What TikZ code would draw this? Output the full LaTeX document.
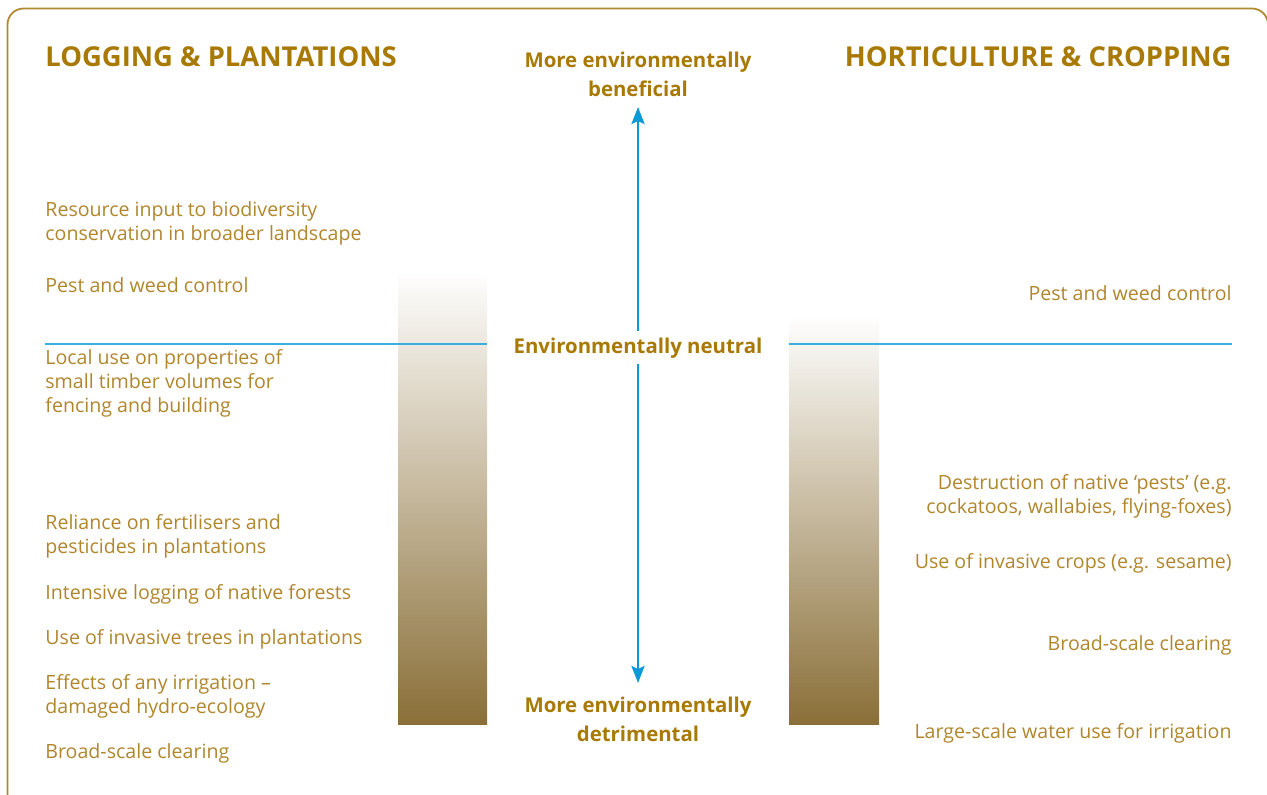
\documentclass[tikz,border=0pt]{standalone}
\usepackage{fontspec}
\setmainfont{Open Sans}
\usetikzlibrary{arrows.meta}
\definecolor{headgold}{HTML}{A87A05}
\definecolor{bodygold}{HTML}{B0862C}
\definecolor{framegold}{HTML}{B08A30}
\definecolor{arrowblue}{HTML}{0A9AD8}
\definecolor{lineblue}{HTML}{3AAEDF}
\definecolor{barbrown}{HTML}{8A6F38}
\tikzset{
  head/.style={font=\fontsize{13.7}{16}\selectfont\bfseries, text=headgold, inner sep=0pt},
  polelabel/.style={font=\fontsize{10.2}{14.5}\selectfont\bfseries, text=headgold, inner sep=0pt, align=center},
  item/.style={font=\fontsize{9.8}{12}\selectfont, text=bodygold, inner sep=0pt},
  litem/.style={item, align=left, anchor=base west},
  ritem/.style={item, align=right, anchor=base east},
  bar/.style={top color=white, bottom color=barbrown},
  axis/.style={draw=arrowblue, line width=1.4pt, {Stealth[length=8.5pt,width=6.5pt,inset=1.5pt]}-{Stealth[length=8.5pt,width=6.5pt,inset=1.5pt]}},
  neutral/.style={draw=lineblue, line width=0.7pt}
}
\begin{document}
\begin{tikzpicture}[x=0.5pt,y=-0.5pt]
\useasboundingbox (0,0) rectangle (1267,794);
\begin{scope}
\clip (0,0) rectangle (1267,794);
\draw[framegold, line width=0.9pt, rounded corners=8pt] (7.5,900) -- (7.5,8.5) -- (1268,8.5) -- (1268,900);
\end{scope}
% bars
\shade[bar] (398,270) rectangle (487,724);
\shade[bar] (789,315) rectangle (879,724);
% neutral lines
\coordinate (nl1) at (45,344);
\coordinate (nl2) at (487,344);
\coordinate (nr1) at (789,344);
\coordinate (nr2) at (1232,344);
\draw[neutral] (nl1) -- (nl2);
\draw[neutral] (nr1) -- (nr2);
% axis
\coordinate (atop) at (638,107);
\coordinate (abot) at (638,683);
\draw[axis] (atop) -- (abot);
\node[polelabel, fill=white, inner xsep=4pt, inner ysep=3.2pt, anchor=base] (neu) at (638,353) {Environmentally neutral};
% pole labels
\node[polelabel, anchor=base] (ben) at (638,96) {More environmentally\\beneficial};
\node[polelabel, anchor=base] (det) at (638,741) {More environmentally\\detrimental};
% titles
\node[head, anchor=base west] (tl) at (45,66) {LOGGING \& PLANTATIONS};
\node[head, anchor=base east] (tr) at (1232,66) {HORTICULTURE \& CROPPING};
% left items
\node[litem] (l1) at (45,240) {Resource input to biodiversity\\conservation in broader landscape};
\node[litem] (l2) at (45,292) {Pest and weed control};
\node[litem] (l3) at (45,412) {Local use on properties of\\small timber volumes for\\fencing and building};
\node[litem] (l4) at (45,553) {Reliance on fertilisers and\\pesticides in plantations};
\node[litem] (l5) at (45,599) {Intensive logging of native forests};
\node[litem] (l6) at (45,644) {Use of invasive trees in plantations};
\node[litem] (l7) at (45,713) {Effects of any irrigation –\\damaged hydro-ecology};
\node[litem] (l8) at (45,758) {Broad-scale clearing};
% right items
\node[ritem] (r1) at (1232,300) {Pest and weed control};
\node[ritem] (r2) at (1232,513) {Destruction of native ‘pests’ (e.g.\\cockatoos, wallabies, flying-foxes)};
\node[ritem] (r3) at (1232,568) {Use of invasive crops (e.g. sesame)};
\node[ritem] (r4) at (1232,650) {Broad-scale clearing};
\node[ritem] (r5) at (1232,738) {Large-scale water use for irrigation};
\end{tikzpicture}
\end{document}
